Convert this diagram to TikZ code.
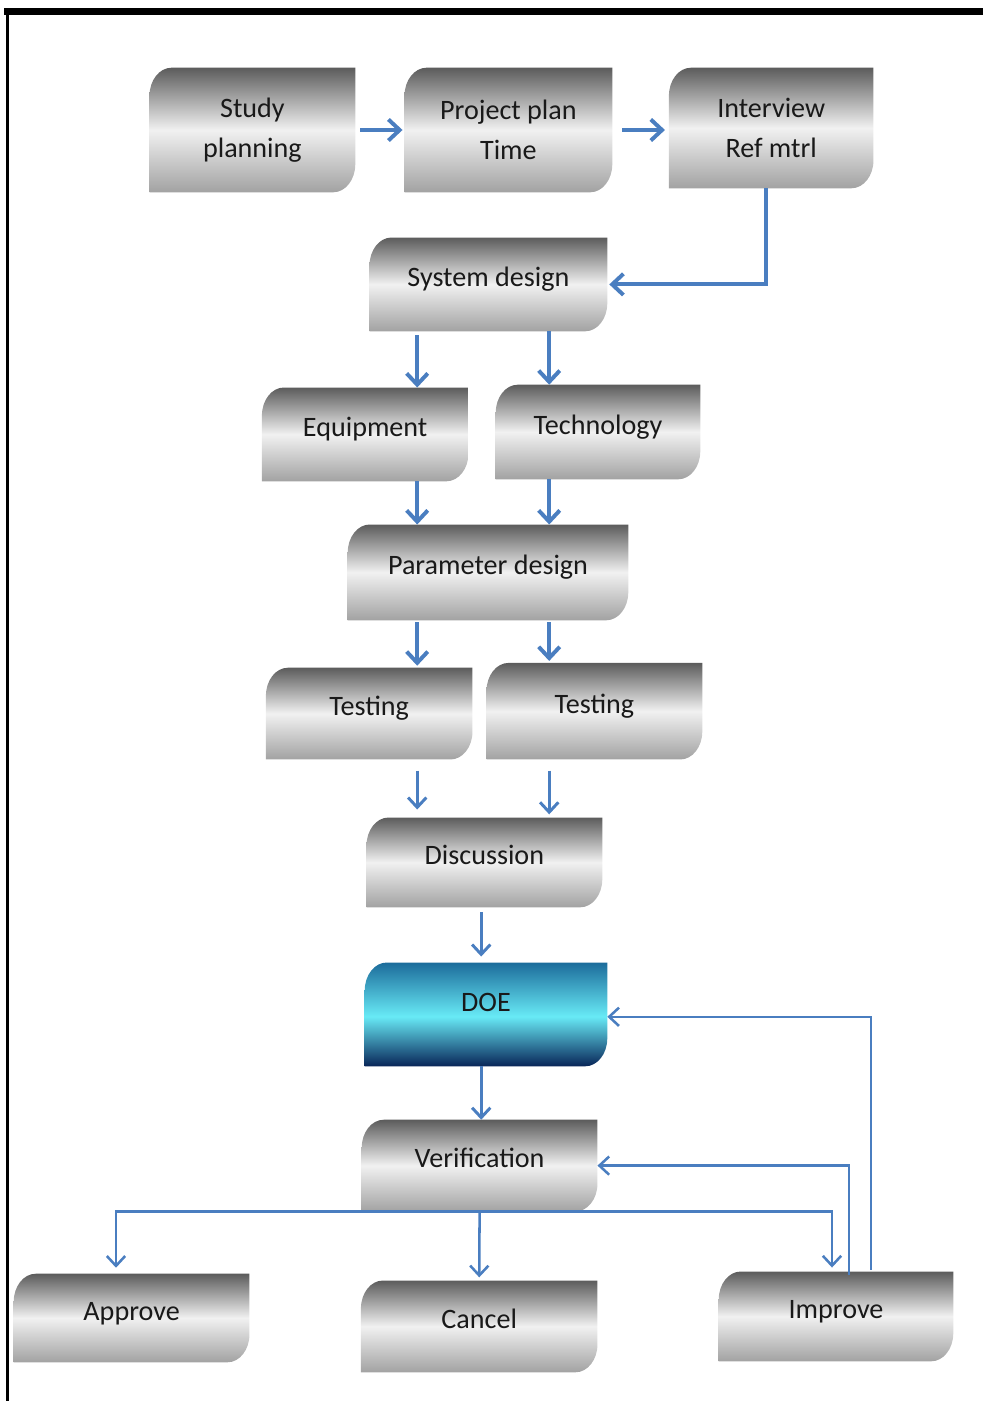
\documentclass[tikz,border=0pt]{standalone}
\usepackage{fontspec}
\setmainfont{Carlito}
\usetikzlibrary{arrows.meta,backgrounds}

\definecolor{flowblue}{RGB}{74,126,192}
\definecolor{steeltop}{RGB}{92,92,92}
\definecolor{steelmid}{RGB}{241,241,241}
\definecolor{steelbot}{RGB}{162,162,162}
\definecolor{doetop}{RGB}{28,108,155}
\definecolor{doemid}{RGB}{104,234,246}
\definecolor{doebot}{RGB}{8,37,88}

\pgfdeclareverticalshading{steel}{100bp}{color(0bp)=(steelbot); color(25bp)=(steelbot); color(50bp)=(steelmid); color(75bp)=(steeltop); color(100bp)=(steeltop)}
\pgfdeclareverticalshading{doeshade}{100bp}{color(0bp)=(doebot); color(25bp)=(doebot); color(49bp)=(doemid); color(75bp)=(doetop); color(100bp)=(doetop)}

\tikzset{
  blk/.style={inner sep=0pt, align=center, text=black!90, font=\fontsize{20}{28}\selectfont},
  one/.style={text height=14pt, text depth=11pt},
  thk/.style={draw=flowblue, line width=2.8pt, -{Straight Barb[length=8pt,width=15pt]}},
  med/.style={draw=flowblue, line width=2.1pt, -{Straight Barb[length=7pt,width=13pt]}},
  thn/.style={draw=flowblue, line width=1.8pt, -{Straight Barb[length=7pt,width=13pt]}},
}

\begin{document}
\begin{tikzpicture}
\useasboundingbox (0,0) rectangle (24.575,-35.025);
\draw[line width=5pt] (0.1,-0.28) -- (24.575,-0.28);
\draw[line width=1.8pt] (0.19,-0.28) -- (0.19,-35.025);

\node[blk,minimum width=5.13cm,minimum height=3.1cm] (study) at (6.31,-3.25) {Study\\planning};
\node[blk,minimum width=5.18cm,minimum height=3.1cm] (plan) at (12.71,-3.25) {Project plan\\Time};
\node[blk,minimum width=5.1cm,minimum height=3cm] (intv) at (19.28,-3.2) {Interview\\Ref mtrl};
\node[blk,one,minimum width=5.93cm,minimum height=2.33cm] (sys) at (12.21,-7.11) {System design};
\node[blk,one,minimum width=5.15cm,minimum height=2.33cm] (equip) at (9.13,-10.86) {Equipment};
\node[blk,one,minimum width=5.1cm,minimum height=2.35cm] (tech) at (14.95,-10.8) {Technology};
\node[blk,one,minimum width=7cm,minimum height=2.38cm] (param) at (12.2,-14.31) {Parameter design};
\node[blk,one,minimum width=5.15cm,minimum height=2.28cm] (test1) at (9.23,-17.84) {Testing};
\node[blk,one,minimum width=5.38cm,minimum height=2.4cm] (test2) at (14.86,-17.78) {Testing};
\node[blk,one,minimum width=5.88cm,minimum height=2.23cm] (disc) at (12.11,-21.56) {Discussion};
\node[blk,minimum width=6.05cm,minimum height=2.58cm,text height=13pt,text depth=17pt] (doe) at (12.15,-25.36) {DOE};
\node[blk,one,minimum width=5.88cm,minimum height=2.28cm] (verif) at (11.99,-29.14) {Verification};
\node[blk,one,minimum width=5.88cm,minimum height=2.2cm] (appr) at (3.29,-32.95) {Approve};
\node[blk,one,minimum width=5.9cm,minimum height=2.28cm] (cancel) at (11.98,-33.16) {Cancel};
\node[blk,one,minimum width=5.85cm,minimum height=2.23cm] (impr) at (20.9,-32.91) {Improve};

\begin{scope}[on background layer]
\foreach \n/\s in {study/steel,plan/steel,intv/steel,sys/steel,equip/steel,tech/steel,param/steel,test1/steel,test2/steel,disc/steel,doe/doeshade,verif/steel,appr/steel,cancel/steel,impr/steel}
  \shade[shading=\s] ([xshift=0.55cm]\n.north west) -- (\n.north east) -- ([yshift=0.7cm]\n.south east)
    arc[start angle=0,end angle=-90,x radius=0.55cm,y radius=0.7cm] -- (\n.south west)
    -- ([yshift=-0.7cm]\n.north west) arc[start angle=180,end angle=90,x radius=0.55cm,y radius=0.7cm] -- cycle;
\end{scope}

\coordinate (cl) at (10.43,0);
\coordinate (cr) at (13.73,0);
\coordinate (cm) at (12.03,0);

\draw[thk,shorten <=0.12cm,shorten >=0.05cm] (study.east) -- (study.east -| plan.west);
\draw[thk,shorten <=0.25cm,shorten >=0.1cm] (plan.east) -- (plan.east -| intv.west);
\draw[thk,shorten >=0.05cm] ([xshift=-0.12cm]intv.south) |- (sys.east);
\draw[thk,shorten <=0.1cm] (sys.south -| cl) -- (equip.north -| cl);
\draw[thk] (sys.south -| cr) -- (tech.north -| cr);
\draw[thk] (equip.south -| cl) -- (param.north -| cl);
\draw[thk] (tech.south -| cr) -- (param.north -| cr);
\draw[thk,shorten <=0.05cm,shorten >=0.05cm] (param.south -| cl) -- (test1.north -| cl);
\draw[thk,shorten <=0.05cm,shorten >=0.05cm] (param.south -| cr) -- (test2.north -| cr);
\draw[med,shorten <=0.28cm,shorten >=0.2cm] (test1.south -| cl) -- (disc.north -| cl);
\draw[med,shorten <=0.28cm,shorten >=0.08cm] (test2.south -| cr) -- (disc.north -| cr);
\draw[med,shorten <=0.13cm,shorten >=0.15cm] (disc.south -| cm) -- (doe.north -| cm);
\draw[med] (doe.south -| cm) -- (verif.north -| cm);
\draw[thn,shorten >=0.08cm] (verif.south) -- (cancel.north);
\draw[thn,shorten >=0.15cm] (verif.south) -| ([xshift=-0.39cm]appr.north);
\draw[thn,shorten >=0.1cm] (verif.south) -| ([xshift=-0.1cm]impr.north);
\draw[thn] ([xshift=0.33cm,yshift=-0.08cm]impr.north) |- (verif.east);
\draw[thn] ([xshift=0.88cm,yshift=0.05cm]impr.north) |- ([yshift=-0.06cm]doe.east);
\end{tikzpicture}
\end{document}
